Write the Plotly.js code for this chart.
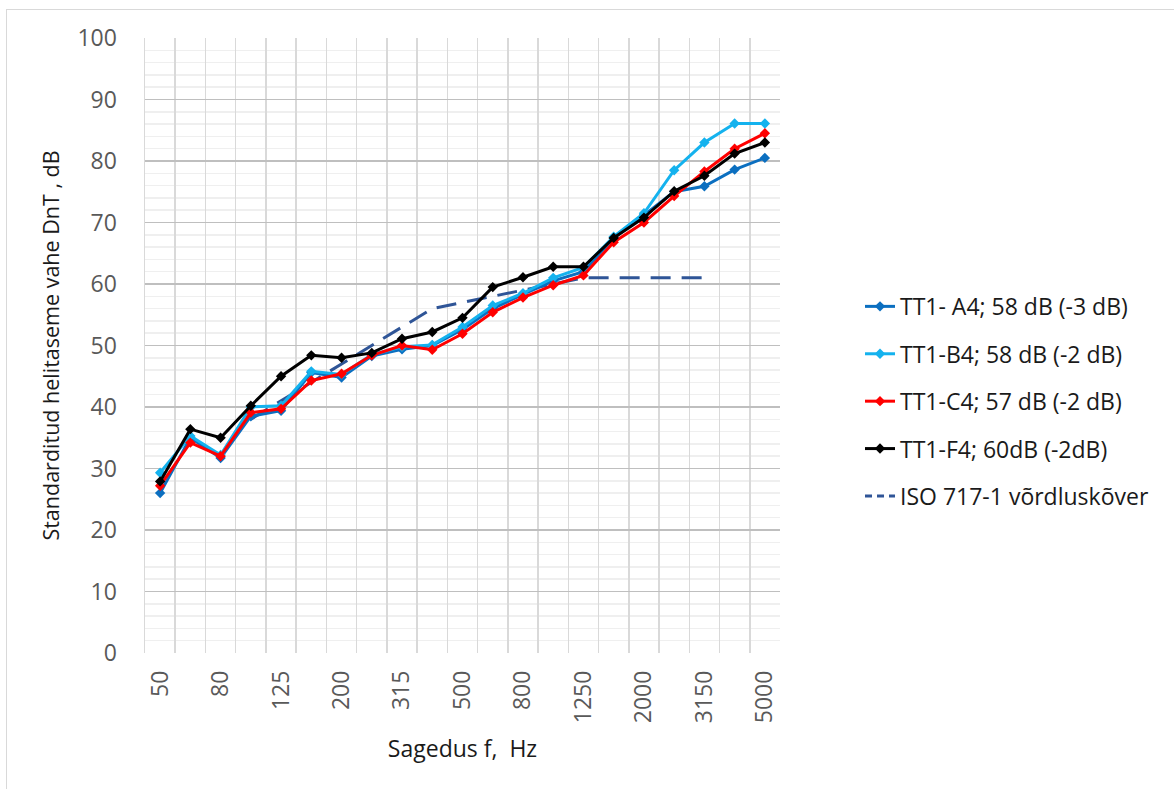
<!DOCTYPE html>
<html>
<head>
<meta charset="utf-8">
<script src="https://cdn.plot.ly/plotly-3.0.1.min.js"></script>
<style>
  html, body { margin: 0; padding: 0; background: #ffffff; }
  #chart { position: absolute; left: 0; top: 0; width: 1174px; height: 789px; }
  #frame { position: absolute; left: 6px; top: 9px; width: 1180px; height: 800px;
           border-left: 1px solid #d9d9d9; border-top: 1px solid #d9d9d9; pointer-events: none; }
</style>
</head>
<body>
<div id="chart"></div>
<div id="frame"></div>
<script>
// Third-octave band centre frequencies, Hz
const freqs = ['50','63','80','100','125','160','200','250','315','400','500',
               '630','800','1000','1250','1600','2000','2500','3150','4000','5000'];
// Every other band is labelled on the axis
const freqLabels = ['50','','80','','125','','200','','315','','500',
                    '','800','','1250','','2000','','3150','','5000'];

// Standardised level difference DnT, dB
const tt1A4 = [26.0, 35.0, 31.7, 38.5, 39.4, 45.6, 44.8, 48.3, 49.4, 50.0, 52.6,
               56.0, 58.3, 60.5, 62.0, 67.5, 71.2, 75.0, 75.9, 78.6, 80.5];
const tt1B4 = [29.3, 35.3, 32.2, 40.0, 40.2, 45.8, 45.3, 48.5, 49.8, 50.1, 53.0,
               56.5, 58.5, 61.0, 62.7, 67.7, 71.5, 78.5, 83.0, 86.1, 86.1];
const tt1C4 = [27.2, 34.2, 32.0, 39.1, 39.7, 44.3, 45.4, 48.4, 50.0, 49.3, 51.9,
               55.4, 57.8, 59.8, 61.4, 66.8, 70.0, 74.3, 78.3, 82.0, 84.5];
const tt1F4 = [27.9, 36.4, 35.0, 40.2, 45.0, 48.4, 48.0, 48.8, 51.1, 52.2, 54.5,
               59.5, 61.1, 62.8, 62.8, 67.5, 70.8, 75.1, 77.6, 81.2, 83.0];
// ISO 717-1 reference curve, shifted, 100–3150 Hz
const isoFreqs = ['100','125','160','200','250','315','400','500',
                  '630','800','1000','1250','1600','2000','2500','3150'];
const isoCurve = [38, 41, 44, 47, 50, 53, 56, 57, 58, 59, 60, 61, 61, 61, 61, 61];

const seriesNames = ['TT1- A4; 58 dB (-3 dB)', 'TT1-B4; 58 dB (-2 dB)',
                     'TT1-C4; 57 dB (-2 dB)', 'TT1-F4; 60dB (-2dB)', 'ISO 717-1 võrdluskõver'];

const font = 'Open Sans, sans-serif';
const isoColor = '#2f5597';

function measured(name, y, color, rank) {
  return {
    x: freqs, y: y, name: name, type: 'scatter', mode: 'lines+markers',
    line: { color: color, width: 3 },
    marker: { symbol: 'diamond', size: 8, color: color },
    legendgroup: name, legendrank: rank
  };
}

const traces = [
  // reference curve in the plot (long dashes)
  {
    x: isoFreqs, y: isoCurve, name: seriesNames[4], type: 'scatter', mode: 'lines',
    line: { color: isoColor, width: 3, dash: '20px,11px' },
    legendgroup: 'iso', showlegend: false
  },
  // legend key for the reference curve (shorter dashes so several fit in the key)
  {
    x: [null], y: [null], name: seriesNames[4], type: 'scatter', mode: 'lines',
    line: { color: isoColor, width: 3, dash: '7px,5px' },
    legendgroup: 'iso', legendrank: 5, hoverinfo: 'skip'
  },
  measured(seriesNames[0], tt1A4, '#0b6fc0', 1),
  measured(seriesNames[1], tt1B4, '#14b2ee', 2),
  measured(seriesNames[2], tt1C4, '#ff0000', 3),
  measured(seriesNames[3], tt1F4, '#000000', 4)
];

const layout = {
  width: 1174, height: 789,
  margin: { l: 145, r: 394, t: 38, b: 136 },
  paper_bgcolor: '#ffffff', plot_bgcolor: '#ffffff',
  font: { family: font, color: '#595959' },
  showlegend: true,
  legend: {
    x: 1.126, xanchor: 'left', y: 0.5985, yanchor: 'top',
    font: { family: font, size: 23, color: '#1a1a1a' },
    tracegroupgap: 14.5, bgcolor: 'rgba(0,0,0,0)'
  },
  xaxis: {
    type: 'category', categoryorder: 'array', categoryarray: freqs,
    range: [-0.5, 20.5],
    tickmode: 'array', tickvals: freqs, ticktext: freqLabels,
    tickson: 'boundaries', ticks: '', ticklabelstandoff: 12,
    tickangle: -90, tickfont: { family: font, size: 23, color: '#595959' },
    showgrid: true, gridcolor: '#d9d9d9', gridwidth: 1.5,
    showline: false, zeroline: false,
    title: { text: 'Sagedus f,  Hz', font: { family: font, size: 23, color: '#1a1a1a' }, standoff: 18 }
  },
  yaxis: {
    range: [0, 100], dtick: 10, tick0: 0,
    tickfont: { family: font, size: 23, color: '#595959' },
    ticks: '', ticklabelstandoff: 22,
    showgrid: true, gridcolor: '#bfbfbf', gridwidth: 1.5,
    minor: { dtick: 2, showgrid: true, gridcolor: '#efefef', gridwidth: 1.5 },
    showline: true, linecolor: '#d9d9d9', linewidth: 1.5,
    zeroline: false,
    title: { text: 'Standarditud helitaseme vahe DnT , dB', font: { family: font, size: 21.5, color: '#1a1a1a' }, standoff: 12 }
  }
};

Plotly.newPlot('chart', traces, layout, { displayModeBar: false, staticPlot: true });
</script>
</body>
</html>
